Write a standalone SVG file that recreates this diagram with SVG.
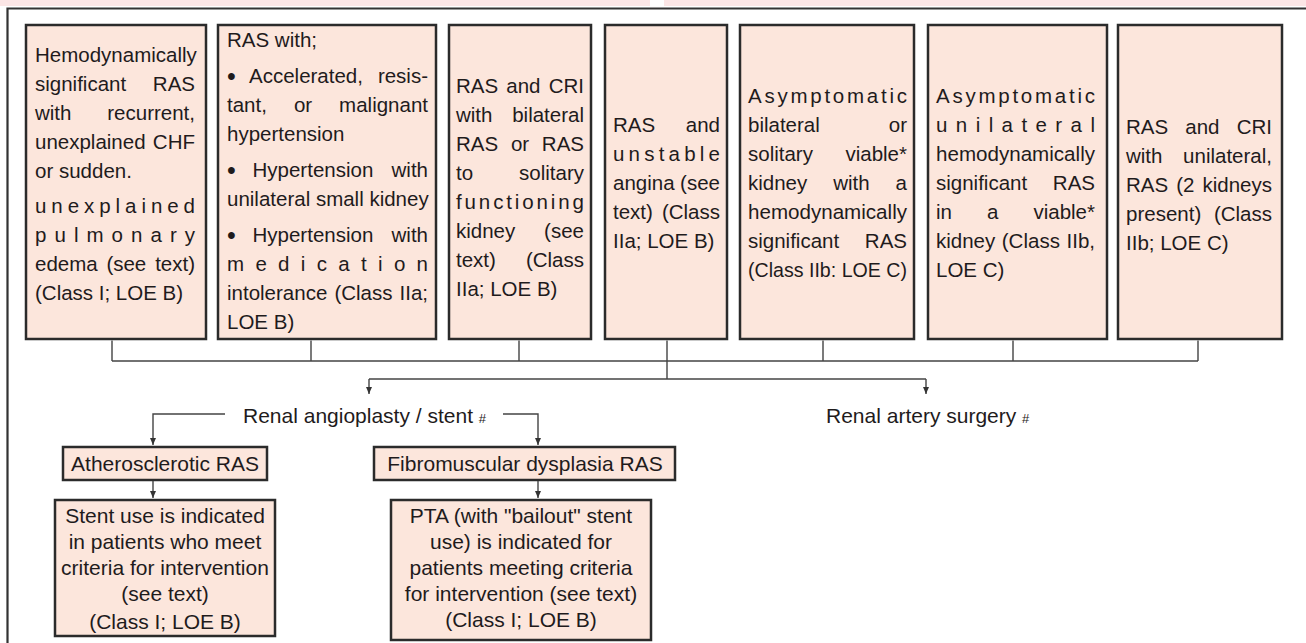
<svg xmlns="http://www.w3.org/2000/svg" width="1306" height="643" viewBox="0 0 1306 643">
<defs>
<style>
.box{fill:#fce6dc;stroke:#2b2b2b;stroke-width:2.5}
.t{font-family:"Liberation Sans",Arial,Helvetica,sans-serif;font-size:20.5px;fill:#1f1b1c}
.e{text-anchor:end}
.b{font-size:25px}
.c{font-family:"Liberation Sans",Arial,Helvetica,sans-serif;font-size:21px;fill:#1f1b1c;text-anchor:middle}
.lbl{font-family:"Liberation Sans",Arial,Helvetica,sans-serif;font-size:21px;fill:#1f1b1c}
.conn{stroke:#444;stroke-width:1.4;fill:none}
.sm{font-size:13px}
</style>
<marker id="arr" markerUnits="userSpaceOnUse" markerWidth="8" markerHeight="7" refX="7.5" refY="3.5" orient="auto" viewBox="0 0 8 7">
<path d="M0,0.3 L7.5,3.5 L0,6.7 Z" fill="#333"/>
</marker>
</defs>
<rect x="0" y="0" width="650" height="6" fill="#fce6e6"/>
<rect x="664" y="0" width="642" height="6" fill="#fce6e6"/>
<path d="M7.5,643 V8.5 H1306" fill="none" stroke="#333" stroke-width="2.2"/>

<g id="box1">
<rect class="box" x="26" y="25" width="180" height="314"/>
<text class="t" x="35" y="62">Hemodynamically</text>
<text class="t" x="35" y="91">significant</text><text class="t e" x="195" y="91">RAS</text>
<text class="t" x="35" y="120">with</text><text class="t e" x="195" y="120">recurrent,</text>
<text class="t" x="35" y="149">unexplained</text><text class="t e" x="195" y="149">CHF</text>
<text class="t" x="35" y="178">or sudden.</text>
<text class="t" x="35" y="213" textLength="160" lengthAdjust="spacing">unexplained</text>
<text class="t" x="35" y="242" textLength="160" lengthAdjust="spacing">pulmonary</text>
<text class="t" x="35" y="271">edema</text><text class="t" x="106.4" y="271">(see</text><text class="t e" x="195" y="271">text)</text>
<text class="t" x="35" y="300">(Class I; LOE B)</text>
</g>

<g id="box2">
<rect class="box" x="218" y="25" width="218" height="314"/>
<text class="t" x="227" y="47">RAS with;</text>
<text class="t b" x="227" y="85">•</text><text class="t" x="249" y="83">Accelerated,</text><text class="t e" x="428" y="83">resis-</text>
<text class="t" x="227" y="112">tant,</text><text class="t" x="293.9" y="112">or</text><text class="t e" x="428" y="112">malignant</text>
<text class="t" x="227" y="141">hypertension</text>
<text class="t b" x="227" y="179">•</text><text class="t" x="252.5" y="177">Hypertension</text><text class="t e" x="428" y="177">with</text>
<text class="t" x="227" y="206">unilateral small kidney</text>
<text class="t b" x="227" y="244">•</text><text class="t" x="252.5" y="242">Hypertension</text><text class="t e" x="428" y="242">with</text>
<text class="t" x="227" y="271" textLength="201" lengthAdjust="spacing">medication</text>
<text class="t" x="227" y="300">intolerance</text><text class="t" x="334.4" y="300">(Class</text><text class="t e" x="428" y="300">IIa;</text>
<text class="t" x="227" y="329">LOE B)</text>
</g>

<g id="box3">
<rect class="box" x="449" y="25" width="142" height="314"/>
<text class="t" x="456" y="93">RAS</text><text class="t" x="506.3" y="93">and</text><text class="t e" x="584" y="93">CRI</text>
<text class="t" x="456" y="122">with</text><text class="t e" x="584" y="122">bilateral</text>
<text class="t" x="456" y="151">RAS</text><text class="t" x="510.9" y="151">or</text><text class="t e" x="584" y="151">RAS</text>
<text class="t" x="456" y="180">to</text><text class="t e" x="584" y="180">solitary</text>
<text class="t" x="456" y="209" textLength="128" lengthAdjust="spacing">functioning</text>
<text class="t" x="456" y="238">kidney</text><text class="t e" x="584" y="238">(see</text>
<text class="t" x="456" y="267">text)</text><text class="t e" x="584" y="267">(Class</text>
<text class="t" x="456" y="296">IIa; LOE B)</text>
</g>

<g id="box4">
<rect class="box" x="605" y="25" width="122" height="314"/>
<text class="t" x="613" y="132">RAS</text><text class="t e" x="720" y="132">and</text>
<text class="t" x="613" y="161" textLength="107" lengthAdjust="spacing">unstable</text>
<text class="t" x="613" y="190">angina</text><text class="t e" x="720" y="190">(see</text>
<text class="t" x="613" y="219">text)</text><text class="t e" x="720" y="219">(Class</text>
<text class="t" x="613" y="248">IIa; LOE B)</text>
</g>

<g id="box5">
<rect class="box" x="740" y="25" width="174" height="314"/>
<text class="t" x="748" y="103" textLength="159" lengthAdjust="spacing">Asymptomatic</text>
<text class="t" x="748" y="132">bilateral</text><text class="t e" x="907" y="132">or</text>
<text class="t" x="748" y="161">solitary</text><text class="t e" x="907" y="161">viable*</text>
<text class="t" x="748" y="190">kidney</text><text class="t" x="833.2" y="190">with</text><text class="t e" x="907" y="190">a</text>
<text class="t" x="748" y="219" textLength="159" lengthAdjust="spacingAndGlyphs">hemodynamically</text>
<text class="t" x="748" y="248">significant</text><text class="t e" x="907" y="248">RAS</text>
<text class="t" x="748" y="277" textLength="159" lengthAdjust="spacingAndGlyphs">(Class IIb: LOE C)</text>
</g>

<g id="box6">
<rect class="box" x="928" y="25" width="179" height="314"/>
<text class="t" x="936" y="103" textLength="159" lengthAdjust="spacing">Asymptomatic</text>
<text class="t" x="936" y="132" textLength="159" lengthAdjust="spacing">unilateral</text>
<text class="t" x="936" y="161" textLength="159" lengthAdjust="spacingAndGlyphs">hemodynamically</text>
<text class="t" x="936" y="190">significant</text><text class="t e" x="1095" y="190">RAS</text>
<text class="t" x="936" y="219">in</text><text class="t" x="987" y="219">a</text><text class="t e" x="1095" y="219">viable*</text>
<text class="t" x="936" y="248">kidney</text><text class="t" x="1001.8" y="248">(Class</text><text class="t e" x="1095" y="248">IIb,</text>
<text class="t" x="936" y="277">LOE C)</text>
</g>

<g id="box7">
<rect class="box" x="1118" y="25" width="164" height="314"/>
<text class="t" x="1126" y="134">RAS</text><text class="t" x="1185.3" y="134">and</text><text class="t e" x="1272" y="134">CRI</text>
<text class="t" x="1126" y="163">with</text><text class="t e" x="1272" y="163">unilateral,</text>
<text class="t" x="1126" y="192">RAS</text><text class="t" x="1176.2" y="192">(2</text><text class="t e" x="1272" y="192">kidneys</text>
<text class="t" x="1126" y="221">present)</text><text class="t e" x="1272" y="221">(Class</text>
<text class="t" x="1126" y="250">IIb; LOE C)</text>
</g>

<g id="angioplasty">
<text class="lbl" x="243" y="423">Renal angioplasty / stent <tspan class="sm">#</tspan></text>
</g>

<g id="surgery">
<text class="lbl" x="826" y="423">Renal artery surgery <tspan class="sm">#</tspan></text>
</g>

<g id="athero">
<rect class="box" x="63" y="447" width="204" height="33"/>
<text class="c" x="165" y="471">Atherosclerotic RAS</text>
</g>

<g id="stent">
<rect class="box" x="55" y="500" width="220" height="136"/>
<text class="c" x="165" y="523">Stent use is indicated</text>
<text class="c" x="165" y="549">in patients who meet</text>
<text class="c" x="165" y="575">criteria for intervention</text>
<text class="c" x="165" y="601">(see text)</text>
<text class="c" x="165" y="629">(Class I; LOE B)</text>
</g>

<g id="fibro">
<rect class="box" x="374" y="447" width="301" height="33"/>
<text class="c" x="525" y="471">Fibromuscular dysplasia RAS</text>
</g>

<g id="pta">
<rect class="box" x="391" y="500" width="260" height="140"/>
<text class="c" x="521" y="523">PTA (with "bailout" stent</text>
<text class="c" x="521" y="549">use) is indicated for</text>
<text class="c" x="521" y="575">patients meeting criteria</text>
<text class="c" x="521" y="601">for intervention (see text)</text>
<text class="c" x="521" y="627">(Class I; LOE B)</text>
</g>

<g id="connectors">
<path class="conn" d="M112,340.5 V361 M311,340.5 V361 M519,340.5 V361 M667,340.5 V379 M823,340.5 V361 M1013,340.5 V361 M1198,340.5 V361 M112,361 H1198"/>
<path class="conn" d="M369,379 H926"/>
<path class="conn" d="M369,379 V394" marker-end="url(#arr)"/>
<path class="conn" d="M926,379 V394" marker-end="url(#arr)"/>
<path class="conn" d="M225,414 H153 V445" marker-end="url(#arr)"/>
<path class="conn" d="M503,414 H538 V445" marker-end="url(#arr)"/>
<path class="conn" d="M153,481 V498" marker-end="url(#arr)"/>
<path class="conn" d="M538,481 V498" marker-end="url(#arr)"/>
</g>
</svg>
